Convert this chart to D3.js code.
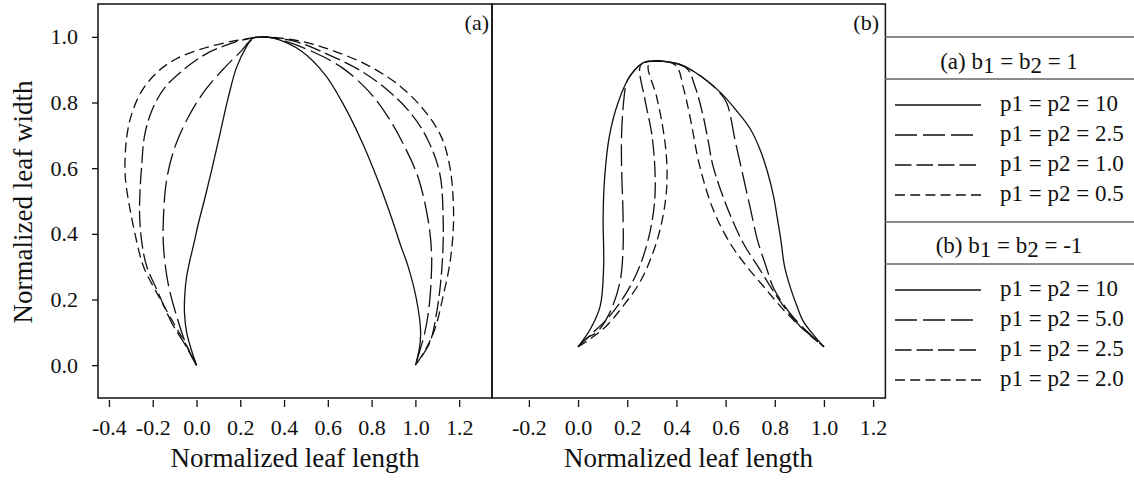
<!DOCTYPE html>
<html>
<head>
<meta charset="utf-8">
<script src="https://cdn.jsdelivr.net/npm/d3@7"></script>
<style>
  body { margin: 0; background: #fff; }
  text { font-family: "Liberation Serif", "Times New Roman", serif; fill: #111; }
</style>
</head>
<body>
<svg id="chart" width="1134" height="483"></svg>
<script>
// tick values
var xTicksA = [-0.4, -0.2, 0.0, 0.2, 0.4, 0.6, 0.8, 1.0, 1.2];
var xTicksB = [-0.2, 0.0, 0.2, 0.4, 0.6, 0.8, 1.0, 1.2];
var yTicks = [0.0, 0.2, 0.4, 0.6, 0.8, 1.0];

// legend labels
var headerA = ["(a) b", "1", " = b", "2", " = 1"];
var headerB = ["(b) b", "1", " = b", "2", " = -1"];
var labelsA = ["p1 = p2 = 10", "p1 = p2 = 2.5", "p1 = p2 = 1.0", "p1 = p2 = 0.5"];
var labelsB = ["p1 = p2 = 10", "p1 = p2 = 5.0", "p1 = p2 = 2.5", "p1 = p2 = 2.0"];

// panel (a) curves: [length, width]
var a_p10 = [[0,0],[-0.025,0.05],[-0.045,0.10],[-0.055,0.16],[-0.053,0.22],[-0.045,0.27],[-0.03,0.32],[-0.012,0.37],
  [0.008,0.43],[0.035,0.50],[0.068,0.59],[0.107,0.704],[0.145,0.815],[0.183,0.907],[0.229,0.971],[0.255,0.995],[0.30,1.0],
  [0.358,0.995],[0.48,0.956],[0.587,0.885],[0.663,0.804],[0.754,0.683],[0.830,0.561],[0.891,0.449],[0.93,0.37],
  [0.967,0.30],[1.005,0.20],[1.024,0.10],[1.018,0.05],[1.0,0]];
var a_p25 = [[0,0],[-0.045,0.059],[-0.091,0.15],[-0.13,0.25],[-0.150,0.353],[-0.152,0.43],[-0.137,0.562],[-0.099,0.664],
  [-0.038,0.755],[0.038,0.836],[0.130,0.907],[0.206,0.958],[0.25,0.99],[0.30,1.0],[0.39,0.99],[0.526,0.956],
  [0.663,0.907],[0.784,0.836],[0.876,0.755],[0.952,0.664],[1.013,0.571],[1.059,0.439],[1.074,0.34],[1.072,0.26],
  [1.063,0.18],[1.043,0.099],[1.0,0]];
var a_p10m = [[0,0],[-0.05,0.06],[-0.114,0.13],[-0.175,0.221],[-0.228,0.302],[-0.251,0.38],[-0.260,0.46],[-0.258,0.53],
  [-0.251,0.602],[-0.236,0.704],[-0.198,0.785],[-0.144,0.846],[-0.068,0.895],[0.038,0.946],[0.145,0.977],[0.24,0.995],
  [0.30,1.0],[0.45,0.986],[0.602,0.946],[0.754,0.895],[0.876,0.836],[0.983,0.764],[1.059,0.683],[1.112,0.582],
  [1.127,0.439],[1.125,0.34],[1.115,0.25],[1.097,0.16],[1.066,0.069],[1.0,0]];
var a_p05 = [[0,0],[-0.045,0.059],[-0.106,0.13],[-0.182,0.221],[-0.243,0.302],[-0.281,0.40],[-0.305,0.48],[-0.322,0.55],
  [-0.327,0.602],[-0.319,0.693],[-0.297,0.763],[-0.251,0.834],[-0.175,0.895],[-0.084,0.936],[0.038,0.966],[0.160,0.986],
  [0.25,0.995],[0.30,1.0],[0.48,0.986],[0.632,0.956],[0.800,0.907],[0.937,0.846],[1.043,0.774],[1.120,0.693],
  [1.158,0.602],[1.173,0.50],[1.173,0.414],[1.158,0.312],[1.127,0.211],[1.089,0.110],[1.04,0.04],[1.0,0]];

// panel (b) curves
var b_p10 = [[0,0.056],[0.05,0.11],[0.09,0.18],[0.104,0.30],[0.102,0.45],[0.108,0.57],[0.128,0.70],[0.163,0.80],
  [0.211,0.88],[0.265,0.921],[0.33,0.926],[0.414,0.916],[0.50,0.88],[0.58,0.83],[0.65,0.77],[0.70,0.72],[0.74,0.657],
  [0.77,0.59],[0.795,0.515],[0.81,0.45],[0.825,0.38],[0.84,0.30],[0.862,0.24],[0.89,0.18],[0.915,0.135],[0.96,0.09],
  [1.0,0.056]];
var b_p50 = [[0,0.056],[0.04,0.085],[0.075,0.099],[0.129,0.160],[0.17,0.252],[0.183,0.353],[0.183,0.454],[0.177,0.606],
  [0.177,0.70],[0.185,0.80],[0.197,0.86],[0.211,0.88],[0.265,0.921],[0.33,0.926],[0.414,0.916],[0.50,0.88],[0.57,0.835],
  [0.604,0.80],[0.64,0.68],[0.67,0.58],[0.70,0.48],[0.73,0.38],[0.765,0.30],[0.795,0.235],[0.86,0.16],[0.935,0.10],
  [1.0,0.056]];
var b_p25 = [[0,0.056],[0.061,0.099],[0.129,0.150],[0.197,0.221],[0.251,0.302],[0.292,0.404],[0.312,0.505],[0.312,0.606],
  [0.299,0.708],[0.272,0.809],[0.251,0.906],[0.265,0.921],[0.33,0.926],[0.44,0.905],[0.475,0.85],[0.509,0.758],
  [0.53,0.68],[0.549,0.606],[0.604,0.485],[0.671,0.373],[0.739,0.292],[0.807,0.211],[0.889,0.130],[1.0,0.056]];
var b_p20 = [[0,0.056],[0.048,0.079],[0.116,0.120],[0.183,0.180],[0.251,0.252],[0.305,0.343],[0.340,0.434],[0.360,0.535],
  [0.360,0.627],[0.346,0.718],[0.319,0.819],[0.285,0.911],[0.30,0.924],[0.35,0.926],[0.40,0.911],[0.43,0.84],
  [0.455,0.758],[0.495,0.606],[0.549,0.475],[0.617,0.373],[0.685,0.302],[0.753,0.241],[0.834,0.170],[0.915,0.110],
  [1.0,0.056]];

var dashes = [null, "22,6", "16.5,5", "10,5.2"];
var sampleLen = [86, 78, 81, 86];

function draw() {
    var svg = d3.select("#chart");
    var xA = d3.scaleLinear().domain([-0.45, 1.35]).range([98, 492]);
    var xB = d3.scaleLinear().domain([-0.35, 1.25]).range([492, 885.4]);
    var y = d3.scaleLinear().domain([-0.1, 1.1]).range([398, 4]);

    function curves(x, list) {
        var line = d3.line()
            .x(function(d) { return x(d[0]); })
            .y(function(d) { return y(d[1]); })
            .curve(d3.curveCatmullRom.alpha(0.5));
        svg.append("g")
            .selectAll("path")
            .data(list)
            .enter()
            .append("path")
            .attr("d", line)
            .attr("fill", "none")
            .attr("stroke", "#111")
            .attr("stroke-width", 1.3)
            .attr("stroke-dasharray", function(d, i) { return dashes[i]; });
    }
    curves(xA, [a_p10, a_p25, a_p10m, a_p05]);
    curves(xB, [b_p10, b_p50, b_p25, b_p20]);

    // frames
    svg.append("rect").attr("x", 98).attr("y", 4).attr("width", 394).attr("height", 394)
        .attr("fill", "none").attr("stroke", "#111").attr("stroke-width", 1.5);
    svg.append("rect").attr("x", 492).attr("y", 4).attr("width", 393.4).attr("height", 394)
        .attr("fill", "none").attr("stroke", "#111").attr("stroke-width", 1.5);

    var fmt = function(d) { return d.toFixed(1); };
    function styleAxis(g) {
        g.select(".domain").remove();
        g.selectAll(".tick line").attr("stroke", "#111").attr("stroke-width", 1.3);
        g.selectAll(".tick text").attr("font-size", 22).attr("fill", "#111")
            .attr("font-family", "Liberation Serif, Times New Roman, serif");
    }
    svg.append("g").attr("transform", "translate(0,400)")
        .call(d3.axisBottom(xA).tickValues(xTicksA).tickFormat(fmt).tickSize(7).tickPadding(12))
        .call(styleAxis);
    svg.append("g").attr("transform", "translate(0,400)")
        .call(d3.axisBottom(xB).tickValues(xTicksB).tickFormat(fmt).tickSize(7).tickPadding(12))
        .call(styleAxis);
    svg.append("g").attr("transform", "translate(98,0)")
        .call(d3.axisLeft(y).tickValues(yTicks).tickFormat(fmt).tickSize(6).tickPadding(14))
        .call(styleAxis);

    // titles
    svg.append("text").attr("x", 295).attr("y", 467).attr("text-anchor", "middle")
        .attr("font-size", 27).text("Normalized leaf length");
    svg.append("text").attr("x", 688.5).attr("y", 467).attr("text-anchor", "middle")
        .attr("font-size", 27).text("Normalized leaf length");
    svg.append("text").attr("transform", "translate(32,202) rotate(-90)").attr("text-anchor", "middle")
        .attr("font-size", 27).text("Normalized leaf width");
    svg.append("text").attr("x", 489).attr("y", 30).attr("text-anchor", "end")
        .attr("font-size", 22).text("(a)");
    svg.append("text").attr("x", 879).attr("y", 30).attr("text-anchor", "end")
        .attr("font-size", 22).text("(b)");

    // legend table
    var sepY = [37, 79, 222, 264];
    svg.append("g").selectAll("line").data(sepY).enter().append("line")
        .attr("x1", 885).attr("x2", 1134)
        .attr("y1", function(d) { return d; }).attr("y2", function(d) { return d; })
        .attr("stroke", "#666").attr("stroke-width", 1.5);

    function header(parts, yy) {
        var t = svg.append("text").attr("x", 1009).attr("y", yy).attr("text-anchor", "middle")
            .attr("font-size", 23);
        parts.forEach(function(p, i) {
            t.append("tspan").attr("dy", i === 0 ? 0 : (i % 2 === 1 ? 4 : -4)).text(p);
        });
    }
    header(headerA, 69);
    header(headerB, 253);

    function items(labels, y0) {
        var g = svg.append("g");
        labels.forEach(function(lab, i) {
            var yy = y0 + i * 30;
            g.append("line").attr("x1", 895).attr("x2", 895 + sampleLen[i]).attr("y1", yy).attr("y2", yy)
                .attr("stroke", "#111").attr("stroke-width", 1.4)
                .attr("stroke-dasharray", dashes[i]);
            g.append("text").attr("x", 1000).attr("y", yy + 6).attr("font-size", 23).text(lab);
        });
    }
    items(labelsA, 105);
    items(labelsB, 290);
}

draw();
</script>
</body>
</html>
